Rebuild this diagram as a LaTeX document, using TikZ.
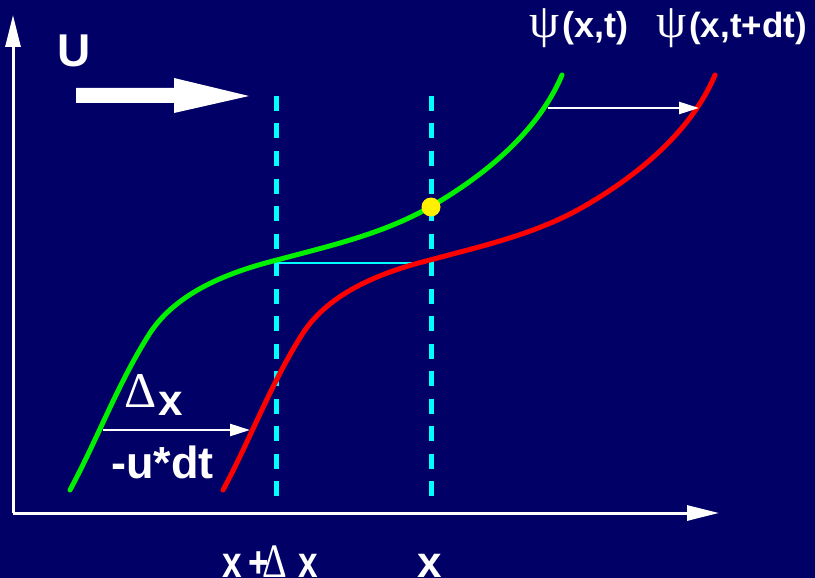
\documentclass[tikz,border=0pt]{standalone}
\usepackage{fontspec}
\setmainfont{Liberation Sans}[BoldFont={Liberation Sans Bold}]
\newfontfamily\symf{Liberation Serif}
\usetikzlibrary{arrows.meta}
\definecolor{bg}{RGB}{0,0,102}
\definecolor{gcurve}{RGB}{0,240,0}
\definecolor{rcurve}{RGB}{255,0,0}
\definecolor{cy}{RGB}{0,255,255}
\definecolor{yel}{RGB}{255,240,0}
\tikzset{
  lbl/.style={text=white, inner sep=0pt, anchor=base west, font=\bfseries\fontsize{44}{48}\selectfont},
  axis/.style={white, line width=3pt, -{Triangle[length=32pt,width=15pt]}},
  thinarrow/.style={white, line width=2.5pt, -{Triangle[length=20pt,width=12pt]}},
  guide/.style={cy, line width=5pt, dash pattern=on 15pt off 12.5pt},
  curve/.style={line width=5pt, line cap=round, line join=round},
}
\newcommand\psicurve{(70,490) .. controls (98,438) and (118,383) .. (150,333)
  .. controls (177,292) and (229,272) .. (277,260)
  .. controls (329,246) and (383,234) .. (430,207)
  .. controls (484,176) and (538,132) .. (562,75)}
\begin{document}
\begin{tikzpicture}[x=1pt,y=-1pt]
\fill[bg] (0,0) rectangle (815,578);
\useasboundingbox (0,0) rectangle (815,578);
% guide lines
\coordinate (g1t) at (276,96); \coordinate (g1b) at (276,504);
\coordinate (g2t) at (431,96); \coordinate (g2b) at (431,504);
\draw[guide] (g1t) -- (g1b);
\draw[guide] (g2t) -- (g2b);
\coordinate (h1) at (277,263); \coordinate (h2) at (420,263);
\draw[cy, line width=2.5pt] (h1) -- (h2);
% curves
\draw[curve, gcurve] \psicurve;
\begin{scope}[xshift=153pt]
\draw[curve, rcurve] \psicurve;
\end{scope}
\fill[yel] (431,207) circle (9.5);
% arrows
\coordinate (a1) at (548,108); \coordinate (a2) at (699,108);
\draw[thinarrow] (a1) -- (a2);
\coordinate (b1) at (103,430); \coordinate (b2) at (250,430);
\draw[thinarrow] (b1) -- (b2);
% big U arrow
\fill[white] (76,88) -- (174,88) -- (174,78) -- (249,96) -- (174,113) -- (174,103) -- (76,103) -- cycle;
% axes
\coordinate (O) at (13,513); \coordinate (Yt) at (13,15); \coordinate (Xe) at (719,513);
\draw[axis] (O) -- (Yt);
\draw[axis] (O) -- (Xe);
% labels
\node[lbl, font=\bfseries\fontsize{46}{50}\selectfont] (U) at (57,67) {U};
\node[lbl, font=\bfseries\fontsize{36}{40}\selectfont] (psi1) at (529,38) {{\mdseries\symf\fontsize{48}{52}\selectfont ψ}\kern3pt(x,t)};
\node[lbl, font=\bfseries\fontsize{35}{40}\selectfont] (psi2) at (656,38) {{\mdseries\symf\fontsize{48}{52}\selectfont ψ}\kern3pt(x,t+dt)};
\node[lbl, font=\mdseries\symf\fontsize{50}{54}\selectfont] (dl) at (124,407) {Δ};
\node[lbl] (dx) at (158,415) {x};
\node[lbl, font=\bfseries\fontsize{45}{48}\selectfont] (udt) at (111,478) {-u*dt};
\node[lbl, xscale=0.8] (xdx) at (222,577) {x\kern8pt+\kern-8pt{\mdseries\symf\fontsize{48}{52}\selectfont Δ}\kern15pt x};
\node[lbl] (xx) at (417,577) {x};
\end{tikzpicture}
\end{document}
